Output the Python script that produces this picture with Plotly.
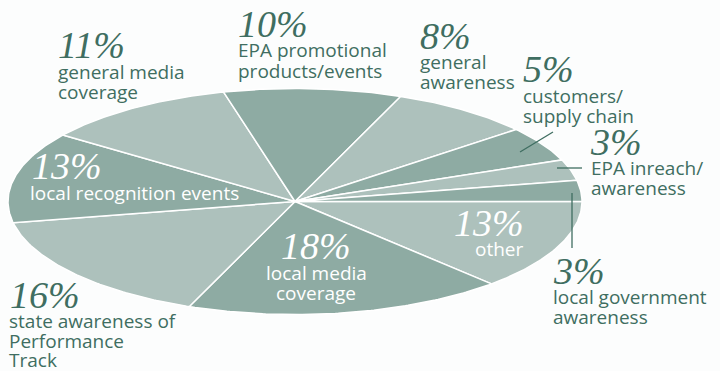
import numpy as np
import plotly.graph_objects as go

# ---- data ----
categories = ["other", "local media coverage", "state awareness of Performance Track",
              "local recognition events", "general media coverage",
              "EPA promotional products/events", "general awareness",
              "customers/supply chain", "EPA inreach/awareness",
              "local government awareness"]
values = [13, 18, 16, 13, 11, 10, 8, 5, 3, 3]
label_lines = [["other"], ["local media", "coverage"],
               ["state awareness of", "Performance", "Track"],
               ["local recognition events"], ["general media", "coverage"],
               ["EPA promotional", "products/events"], ["general", "awareness"],
               ["customers/", "supply chain"], ["EPA inreach/", "awareness"],
               ["local government", "awareness"]]

# ---- styles / geometry ----
W, H = 720, 371
cx, cy, ra, rb = 295.0, 201.5, 287.0, 113.0
DARK, LIGHT = "#8EABA3", "#ADC1BC"
slice_colors = [LIGHT, DARK, LIGHT, DARK, LIGHT, DARK, LIGHT, DARK, LIGHT, DARK]
TXT = "#3F6E61"
SERIF = "Liberation Serif"
SANS = "Open Sans"
PCT_SIZE = 38
LBL_SIZE = 19

# label placement: (x, pct_x, pct_center_y, anchor, [line centers], inside?)
place = [
    (525, 525, 223, "right", [249], True),
    (316, 316, 246, "center", [273, 293], True),
    (8, 9, 295, "left", [321, 341, 360], False),
    (29, 31, 166, "left", [193], True),
    (57, 57, 45, "left", [72, 92], False),
    (237, 237, 24, "left", [50, 71], False),
    (419, 419, 36, "left", [62, 82], False),
    (522, 522, 69, "left", [96, 116], False),
    (590, 589, 142, "left", [168, 188], False),
    (552, 552, 271, "left", [297, 317], False),
]

fig = go.Figure()

total = float(sum(values))
cum = 0.0
for v, col, name in zip(values, slice_colors, categories):
    t0 = 2 * np.pi * cum / total
    t1 = 2 * np.pi * (cum + v) / total
    cum += v
    th = np.linspace(t0, t1, max(8, int(v * 6)))
    xs = np.concatenate([[cx], cx + ra * np.cos(th), [cx]])
    ys = np.concatenate([[cy], cy + rb * np.sin(th), [cy]])
    fig.add_trace(go.Scatter(x=xs, y=ys, mode="lines", fill="toself",
                             fillcolor=col, line=dict(color="white", width=1.5),
                             name=name, hoverinfo="name", showlegend=False))

ann = []
for v, lines, (x, pxx, py, anc, lys, inside) in zip(values, label_lines, place):
    c = "white" if inside else TXT
    ann.append(dict(x=pxx, y=py, text=f"{v}%", showarrow=False, xanchor=anc,
                    yanchor="middle", borderpad=0,
                    font=dict(family=SERIF, size=PCT_SIZE, color=c, style="italic")))
    for ln, ly in zip(lines, lys):
        ann.append(dict(x=x, y=ly, text=ln, showarrow=False, xanchor=anc,
                        yanchor="middle", borderpad=0,
                        font=dict(family=SANS, size=LBL_SIZE, color=c)))

# leader lines
shapes = [
    dict(type="line", x0=520, y0=152, x1=553, y1=132, line=dict(color=TXT, width=1.3)),
    dict(type="line", x0=557, y0=168, x1=582, y1=168, line=dict(color=TXT, width=1.3)),
    dict(type="line", x0=572, y0=193, x1=572, y1=248, line=dict(color=TXT, width=1.3)),
]

fig.update_layout(
    width=W, height=H, margin=dict(l=0, r=0, t=0, b=0),
    paper_bgcolor="#FCFDFD", plot_bgcolor="#FCFDFD",
    xaxis=dict(range=[0, W], visible=False, fixedrange=True),
    yaxis=dict(range=[H, 0], visible=False, fixedrange=True),
    annotations=ann, shapes=shapes, showlegend=False,
)

fig.write_html("out.html")
